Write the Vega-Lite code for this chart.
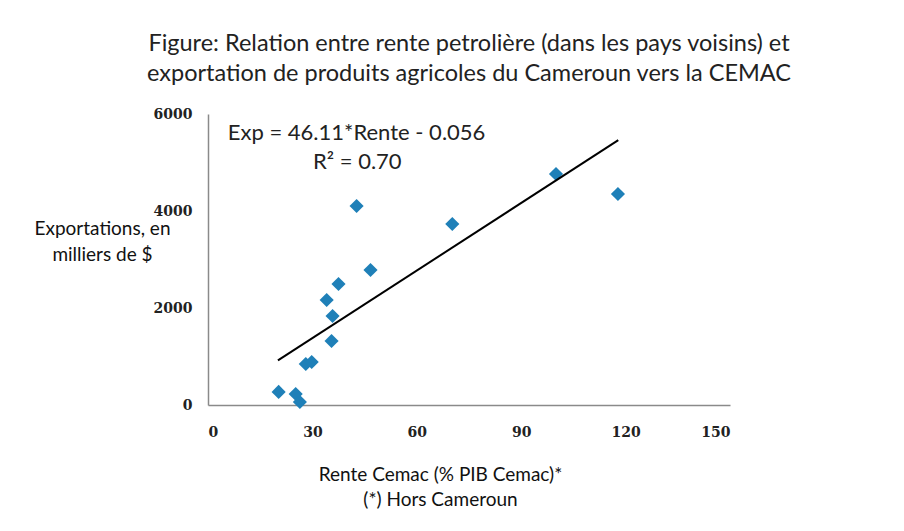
{
  "$schema": "https://vega.github.io/schema/vega-lite/v6.json",
  "width": 522,
  "height": 291,
  "autosize": {"type": "none"},
  "padding": {"left": 208, "top": 114, "right": 174, "bottom": 126},
  "background": "white",
  "config": {
    "view": {"stroke": null},
    "font": "Lato",
    "axis": {"grid": false, "ticks": false, "domainColor": "#8a8a8a", "domainWidth": 1.5,
             "labelFont": "DejaVu Serif", "labelFontSize": 14, "labelFontWeight": "bold", "labelColor": "#222",
             "titleFont": "Lato", "titleFontWeight": "normal", "titleColor": "#111", "titleFontSize": 20}
  },
  "title": {
    "text": ["Figure: Relation entre rente petrolière (dans les pays voisins) et", "exportation de produits  agricoles du Cameroun vers la CEMAC"],
    "anchor": "middle", "frame": "group", "fontSize": 23.5, "fontWeight": "normal", "color": "#222",
    "lineHeight": 30, "offset": 22, "font": "Lato"
  },
  "layer": [
    {
      "data": {"values": [
        {"rente": 20.3, "exportations": 270},
        {"rente": 25.2, "exportations": 227},
        {"rente": 26.4, "exportations": 62},
        {"rente": 28.1, "exportations": 845},
        {"rente": 29.8, "exportations": 887},
        {"rente": 34.1, "exportations": 2165},
        {"rente": 35.5, "exportations": 1320},
        {"rente": 35.8, "exportations": 1835},
        {"rente": 37.5, "exportations": 2495},
        {"rente": 42.7, "exportations": 4103},
        {"rente": 46.7, "exportations": 2784},
        {"rente": 70.2, "exportations": 3732},
        {"rente": 100.0, "exportations": 4763},
        {"rente": 117.8, "exportations": 4350}
      ]},
      "mark": {"type": "point", "shape": "diamond", "filled": true, "size": 200, "color": "#1f80b8", "opacity": 1},
      "encoding": {
        "x": {"field": "rente", "type": "quantitative",
              "scale": {"domain": [0, 150], "nice": false},
              "axis": {"values": [0, 30, 60, 90, 120, 150], "format": "d", "labelPadding": 20,
                       "title": ["Rente Cemac (% PIB Cemac)*", "(*) Hors Cameroun"],
                       "titleX": 232, "titleY": 60, "titleAlign": "center", "titleBaseline": "top", "titleLineHeight": 25, "titleFontSize": 19}},
        "y": {"field": "exportations", "type": "quantitative",
              "scale": {"domain": [0, 6000], "nice": false},
              "axis": {"values": [0, 2000, 4000, 6000], "format": "d", "labelPadding": 16,
                       "title": ["Exportations, en", "milliers de $"], "titleAngle": 0, "titleFontSize": 19,
                       "titleX": -106, "titleY": 105, "titleAlign": "center", "titleBaseline": "top", "titleLineHeight": 26}}
      }
    },
    {
      "data": {"values": [
        {"rente": 20.1, "exportations": 920},
        {"rente": 117.9, "exportations": 5460}
      ]},
      "mark": {"type": "line", "color": "black", "strokeWidth": 2},
      "encoding": {
        "x": {"field": "rente", "type": "quantitative"},
        "y": {"field": "exportations", "type": "quantitative"}
      }
    },
    {
      "data": {"values": [
        {"label": "Exp = 46.11*Rente - 0.056", "rente": 42.7, "exportations": 5610},
        {"label": "R² = 0.70", "rente": 42.9, "exportations": 5010}
      ]},
      "mark": {"type": "text", "font": "Lato", "fontSize": 22, "color": "#222", "align": "center", "baseline": "middle"},
      "encoding": {
        "x": {"field": "rente", "type": "quantitative"},
        "y": {"field": "exportations", "type": "quantitative"},
        "text": {"field": "label"}
      }
    }
  ]
}
